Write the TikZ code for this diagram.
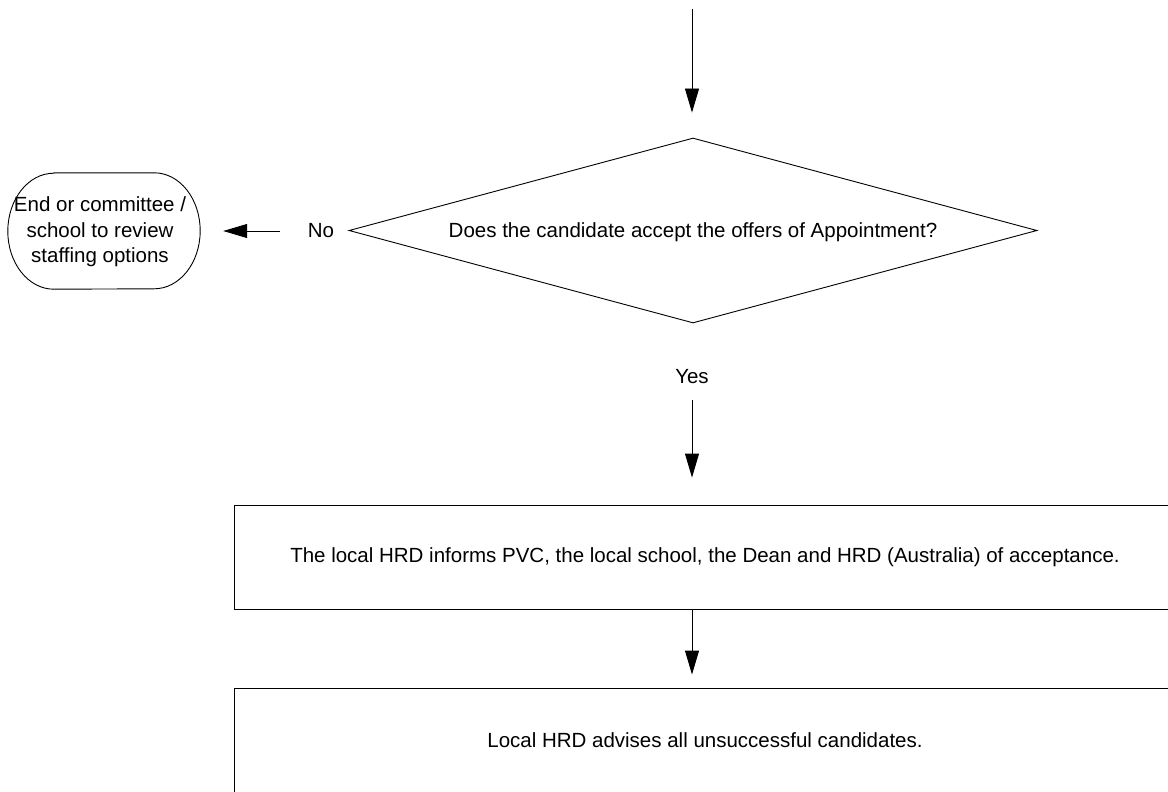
\documentclass[tikz,border=0pt]{standalone}
\usepackage{fontspec}
\setmainfont{Liberation Sans}
\usetikzlibrary{shapes.geometric,arrows.meta}
\begin{document}
\begin{tikzpicture}[x=1pt,y=-1pt,
  every node/.style={font=\fontsize{20.5}{25.5}\selectfont},
  line/.style={draw=black,line width=0.9pt},
  arr/.style={line width=0.9pt,-{Triangle[length=24pt,width=14pt]}},
  terminal/.style={minimum width=192pt,minimum height=116pt,align=center,inner sep=0pt},
  decision/.style={line,shape=diamond,aspect=3.72,minimum width=688pt,minimum height=185pt,inner sep=0pt},
  process/.style={line,minimum width=942pt,minimum height=104pt,inner sep=0pt},
  lbl/.style={inner sep=0pt}]
\useasboundingbox (0,0) rectangle (1168,792);
\clip (0,0) rectangle (1168,792);
\node[terminal] (end) at (104,231) {};
\draw[line] ([xshift=46pt]end.north west) -- ([xshift=-46pt]end.north east)
  arc[start angle=90,end angle=-90,x radius=46pt,y radius=58pt]
  -- ([xshift=46pt]end.south west)
  arc[start angle=270,end angle=90,x radius=46pt,y radius=58pt] -- cycle;
\node[lbl,align=center] (endt) at (100,232) {End or committee /\\school to review\\staffing options};
\node[decision] (dec) at (693,230.5) {};
\node[lbl] (dect) at (693,232) {Does the candidate accept the offers of Appointment?};
\node[lbl] (no) at (321,231) {No};
\node[lbl] (yes) at (692,377) {Yes};
\node[process] (p1) at (705,557) {};
\node[lbl] (p1t) at (705,557) {The local HRD informs PVC, the local school, the Dean and HRD (Australia) of acceptance.};
\node[process] (p2) at (705,740) {};
\node[lbl] (p2t) at (705,740) {Local HRD advises all unsuccessful candidates.};
\coordinate (top) at (692,9);
\draw[arr] (top) -- ([yshift=25pt]dec.north -| top);
\draw[arr] ([xshift=-41pt]no.center) -- ([xshift=23pt]end.east);
\draw[arr] ([yshift=-23pt]yes.center) -- ([yshift=27pt]p1.north -| yes);
\draw[arr] (p1.south -| yes) -- ([yshift=13pt]p2.north -| yes);
\end{tikzpicture}
\end{document}
